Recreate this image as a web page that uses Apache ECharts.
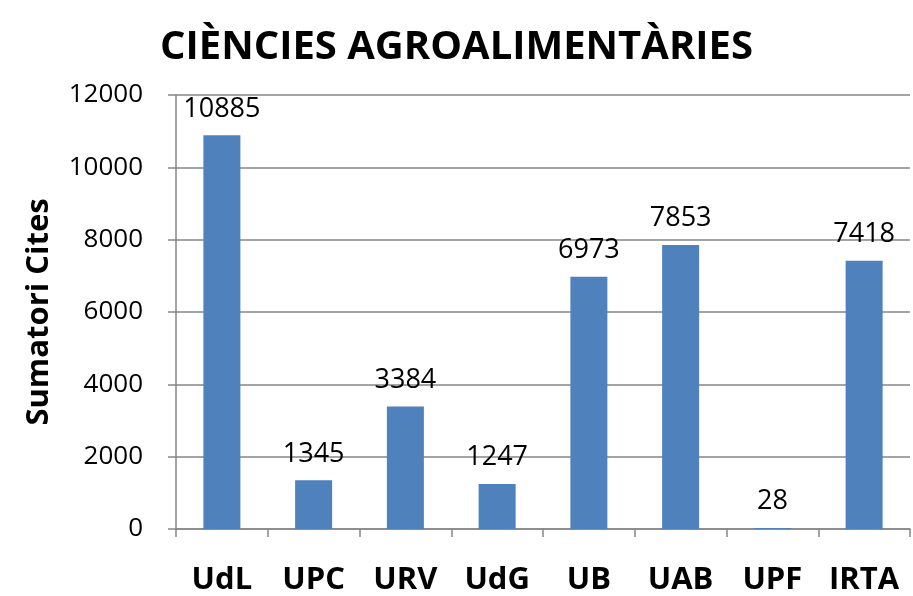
<!DOCTYPE html>
<html>
<head>
<meta charset="utf-8">
<script src="https://cdn.jsdelivr.net/npm/echarts@6/dist/echarts.min.js"></script>
<style>
  html, body { margin: 0; padding: 0; background: #fff; }
  #chart { width: 913px; height: 596px; }
</style>
</head>
<body>
<div id="chart"></div>
<script>
// dades
const universitats = ['UdL', 'UPC', 'URV', 'UdG', 'UB', 'UAB', 'UPF', 'IRTA'];
const cites = [10885, 1345, 3384, 1247, 6973, 7853, 28, 7418];
const titol = 'CIÈNCIES AGROALIMENTÀRIES';
const titolEix = 'Sumatori Cites';

const font = '"Open Sans", sans-serif';
let chart = echarts.init(document.getElementById('chart'));

chart.setOption({
  animation: false,
  title: {
    text: titol,
    left: 'center',
    top: 23,
    textStyle: { fontFamily: font, fontSize: 40, fontWeight: 'bold', color: '#000' }
  },
  grid: { left: 176, right: 3, top: 95, bottom: 65 },
  xAxis: {
    type: 'category',
    data: universitats,
    axisLine: { lineStyle: { color: '#868686', width: 1.5 } },
    axisTick: { show: true, length: 8, lineStyle: { color: '#868686', width: 1.5 } },
    axisLabel: { fontFamily: font, fontSize: 31, fontWeight: 'bold', color: '#000', margin: 36 }
  },
  yAxis: {
    type: 'value',
    min: 0,
    max: 12000,
    interval: 2000,
    name: titolEix,
    nameLocation: 'middle',
    nameGap: 121,
    nameTextStyle: { fontFamily: font, fontSize: 31, fontWeight: 'bold', color: '#000' },
    axisLine: { show: true, lineStyle: { color: '#868686', width: 1.5 } },
    axisTick: { show: true, length: 8, lineStyle: { color: '#868686', width: 1.5 } },
    splitLine: { lineStyle: { color: '#868686', width: 1.5 } },
    axisLabel: { fontFamily: font, fontSize: 26, color: '#000', margin: 33, formatter: v => String(v) }
  },
  series: [{
    type: 'bar',
    data: cites,
    barWidth: 37,
    itemStyle: { color: '#4F81BD' },
    label: {
      show: true,
      position: 'top',
      distance: 13,
      fontFamily: font,
      fontSize: 27,
      color: '#000'
    }
  }]
});
</script>
</body>
</html>
